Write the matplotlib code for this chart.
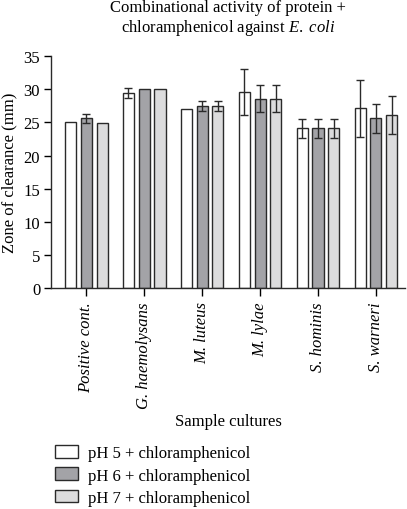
import numpy as np
import matplotlib.pyplot as plt
from matplotlib.patches import Patch

cultures = ['Positive cont.', 'G. haemolysans', 'M. luteus', 'M. lylae', 'S. hominis', 'S. warneri']
series = ['pH 5 + chloramphenicol', 'pH 6 + chloramphenicol', 'pH 7 + chloramphenicol']
ph5 = [25.0, 29.5, 27.0, 29.6, 24.1, 27.1]
ph6 = [25.6, 30.0, 27.5, 28.6, 24.1, 25.6]
ph7 = [24.9, 30.0, 27.5, 28.6, 24.1, 26.1]
ph5_err = [0.0, 0.75, 0.0, 3.5, 1.4, 4.25]
ph6_err = [0.7, 0.0, 0.75, 2.1, 1.4, 2.15]
ph7_err = [0.0, 0.0, 0.75, 2.1, 1.4, 2.85]

colors = ['#ffffff', '#a3a3a7', '#dcdcdd']
edge = '#2a2a2a'

plt.rcParams['font.family'] = ['Liberation Serif', 'DejaVu Serif']
plt.rcParams['mathtext.fontset'] = 'custom'
plt.rcParams['mathtext.rm'] = 'Liberation Serif'
plt.rcParams['mathtext.it'] = 'Liberation Serif:italic'

fig = plt.figure(figsize=(4.07, 5.10), dpi=100)
ax = fig.add_axes([0.126, 0.433, 0.869, 0.455])

x = np.arange(len(cultures))
w = 0.19
step = 0.275
for i, (vals, errs) in enumerate([(ph5, ph5_err), (ph6, ph6_err), (ph7, ph7_err)]):
    pos = x + (i - 1) * step
    ax.bar(pos, vals, width=w, color=colors[i], edgecolor=edge, linewidth=1.0, zorder=2)
    e = np.array(errs)
    m = e > 0
    ax.errorbar(pos[m], np.array(vals)[m], yerr=e[m], fmt='none', ecolor=edge,
                elinewidth=1.0, capsize=2.6, capthick=1.0, zorder=3)

ax.set_xlim(-0.6, 5.5)
ax.set_ylim(0, 35)
ax.set_yticks(range(0, 36, 5))
ax.set_xticks(x)
ax.set_xticklabels(cultures, rotation=90, style='italic', fontsize=12)
ax.tick_params(axis='y', labelsize=12, length=5, width=1.0, direction='out', pad=3)
ax.tick_params(axis='x', length=6, width=1.0, direction='out')
for s in ['top', 'right']:
    ax.spines[s].set_visible(False)
for s in ['left', 'bottom']:
    ax.spines[s].set_linewidth(1.0)
    ax.spines[s].set_color(edge)

ax.set_ylabel('Zone of clearance (mm)', fontsize=12, labelpad=4)
ax.set_xlabel('Sample cultures', fontsize=12, labelpad=4)
ax.set_title('Combinational activity of protein +\nchloramphenicol against $\\it{E.}$ $\\it{coli}$',
             fontsize=12, pad=18, linespacing=1.15)

handles = [Patch(facecolor=colors[i], edgecolor=edge, linewidth=1.0) for i in range(3)]
fig.legend(handles, series, loc='upper left', bbox_to_anchor=(0.118, 0.138),
           frameon=False, fontsize=12, handlelength=1.4, handleheight=0.8,
           labelspacing=0.36, handletextpad=0.6, borderaxespad=0)

fig.savefig('out.png', dpi=100)
